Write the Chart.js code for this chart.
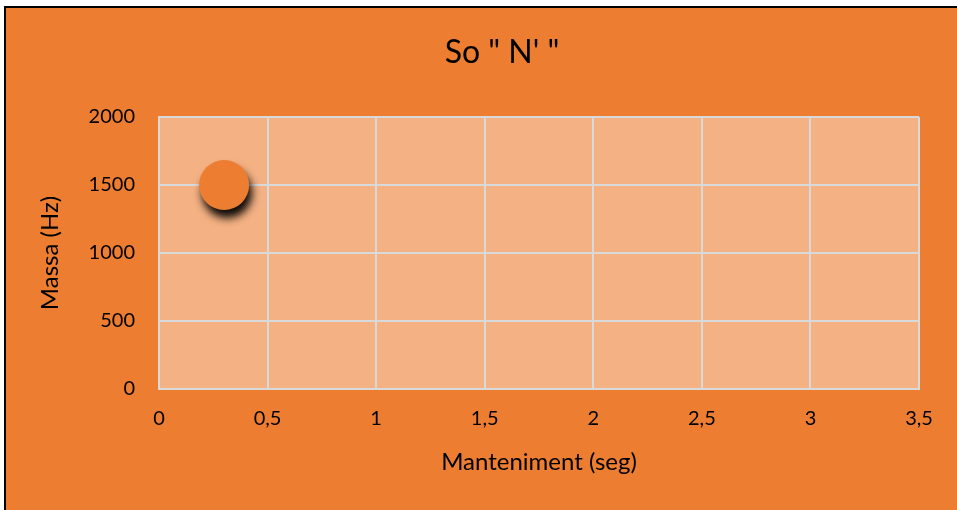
<!DOCTYPE html>
<html>
<head>
<meta charset="utf-8">
<script src="https://cdn.jsdelivr.net/npm/chart.js@4"></script>
<style>
  html, body { margin: 0; padding: 0; background: #fff; overflow: hidden; }
  #wrap {
    position: absolute; left: 4px; top: 6px;
    width: 994px; height: 504px;
    border-left: 2px solid #000; border-top: 2px solid #000;
    background: #ED7D31;
  }
  canvas { display: block; }
</style>
</head>
<body>
<div id="wrap"><canvas id="chart" width="992" height="502"></canvas></div>
<script>
// chart data
const titleText = 'So " N\' "';
const xLabel = 'Manteniment (seg)';
const yLabel = 'Massa (Hz)';
const xValues = [0.3];
const yValues = [1500];
const sizes = [25];

const points = xValues.map((x, i) => ({ x: x, y: yValues[i], r: sizes[i] }));

const fontFamily = 'Lato, "Open Sans", sans-serif';
const commaFmt = v => String(v).replace('.', ',');

// light plot background
const plotBg = {
  id: 'plotBg',
  beforeDraw(chart) {
    const a = chart.chartArea, c = chart.ctx;
    c.save();
    c.fillStyle = '#F4B183';
    c.fillRect(a.left, a.top, a.right - a.left, a.bottom - a.top);
    c.restore();
  }
};

// drop shadow under the bubble
const bubbleShadow = {
  id: 'bubbleShadow',
  beforeDatasetsDraw(chart) {
    const c = chart.ctx;
    c.save();
    c.shadowColor = 'rgba(0,0,0,0.95)';
    c.shadowBlur = 9;
    c.shadowOffsetX = 3;
    c.shadowOffsetY = 8;
  },
  afterDatasetsDraw(chart) {
    chart.ctx.restore();
  }
};

new Chart(document.getElementById('chart'), {
  type: 'bubble',
  data: {
    datasets: [{
      data: points,
      backgroundColor: '#ED7D31',
      borderWidth: 0,
      hoverBorderWidth: 0
    }]
  },
  options: {
    responsive: false,
    devicePixelRatio: 1,
    animation: false,
    layout: { padding: 0 },
    plugins: {
      legend: { display: false },
      tooltip: { enabled: false },
      title: {
        display: true,
        text: titleText,
        color: '#000',
        font: { family: fontFamily, size: 32, weight: 'normal' },
        padding: { top: 25, bottom: 45.6 }
      }
    },
    scales: {
      x: {
        type: 'linear',
        min: 0, max: 3.5,
        ticks: {
          stepSize: 0.5,
          color: '#000',
          font: { family: fontFamily, size: 20 },
          padding: 18,
          callback: commaFmt
        },
        grid: { color: '#D9D9D9', lineWidth: 2, drawTicks: false },
        border: { color: '#D9D9D9', width: 2 },
        title: {
          display: true,
          text: xLabel,
          color: '#000',
          font: { family: fontFamily, size: 24 },
          padding: { top: 0, bottom: 33.6 }
        },
        afterFit(scale) { scale.height = 121; }
      },
      y: {
        type: 'linear',
        min: 0, max: 2000,
        ticks: {
          stepSize: 500,
          color: '#000',
          font: { family: fontFamily, size: 20 },
          padding: 24,
          callback: commaFmt
        },
        grid: { color: '#D9D9D9', lineWidth: 2, drawTicks: false },
        border: { color: '#D9D9D9', width: 2 },
        title: {
          display: true,
          text: yLabel,
          color: '#000',
          font: { family: fontFamily, size: 24 },
          padding: { top: 29.6, bottom: 0 }
        },
        afterFit(scale) { scale.width = 153; }
      },
      // empty axis reserving the space right of the plot (chart is cropped there)
      yRight: {
        position: 'right',
        display: true,
        ticks: { display: false },
        grid: { display: false, drawTicks: false },
        border: { display: false },
        afterFit(scale) { scale.width = 79; }
      }
    }
  },
  plugins: [plotBg, bubbleShadow]
});
</script>
</body>
</html>
